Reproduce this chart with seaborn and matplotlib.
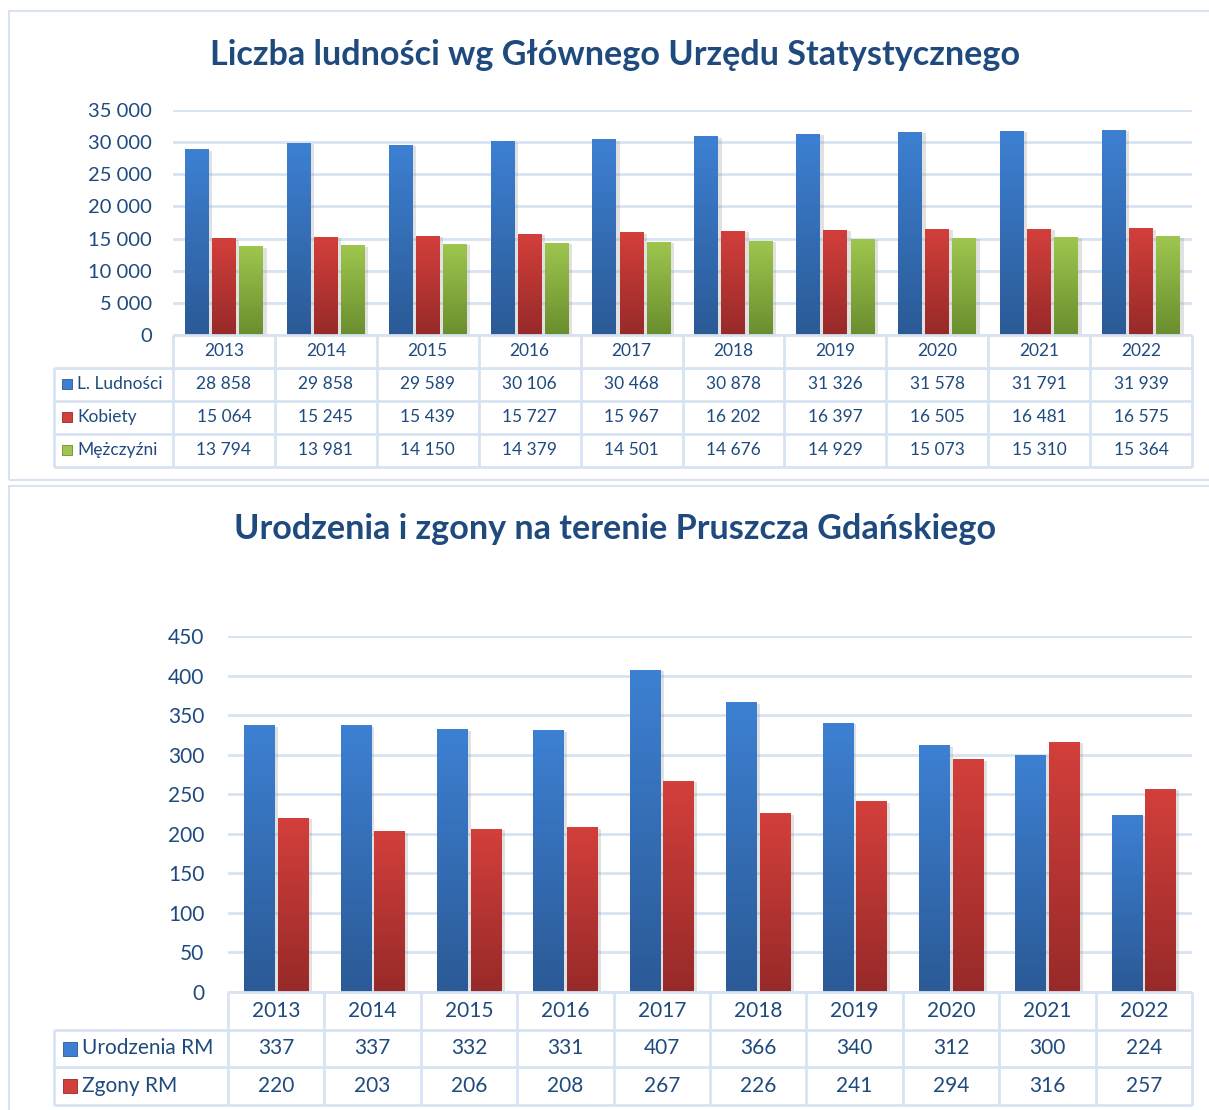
import matplotlib
matplotlib.use("Agg")
import matplotlib.pyplot as plt
import matplotlib.patheffects as pe
from matplotlib.patches import Rectangle
from matplotlib.colors import to_rgb
from matplotlib.ticker import FuncFormatter, MultipleLocator
import seaborn as sns
import pandas as pd
import numpy as np

# --- data ---
years = ["2013", "2014", "2015", "2016", "2017", "2018", "2019", "2020", "2021", "2022"]
ludnosc = [28858, 29858, 29589, 30106, 30468, 30878, 31326, 31578, 31791, 31939]
kobiety = [15064, 15245, 15439, 15727, 15967, 16202, 16397, 16505, 16481, 16575]
mezczyzni = [13794, 13981, 14150, 14379, 14501, 14676, 14929, 15073, 15310, 15364]
urodzenia = [337, 337, 332, 331, 407, 366, 340, 312, 300, 224]
zgony = [220, 203, 206, 208, 267, 226, 241, 294, 316, 257]

series_top = ["L. Ludności", "Kobiety", "Mężczyźni"]
series_bot = ["Urodzenia RM", "Zgony RM"]
title_top = "Liczba ludności wg Głównego Urzędu Statystycznego"
title_bot = "Urodzenia i zgony na terenie Pruszcza Gdańskiego"

# gradient colours (top, bottom)
BLUE = ("#3D80D2", "#2B5A96")
RED = ("#D33F3B", "#972A29")
GREEN = ("#9EC64E", "#6A8E2E")
NAVY = "#1F4A7E"
GRID = "#D7E3F2"

sns.set_style("white")
plt.rcParams["font.family"] = ["Lato", "DejaVu Sans"]

W, H = 1209, 1110
fig = plt.figure(figsize=(W / 100, H / 100), dpi=100)


def px_axes(l, t, r, b):
    return fig.add_axes([l / W, 1 - b / H, (r - l) / W, (b - t) / H])


def thousands(v, pos=None):
    return f"{int(v):,}".replace(",", " ")


def draw_bars(ax, values, names, grads, width, gap, ymax, step, fs, fmt, pad):
    df = pd.DataFrame({
        "rok": years * len(names),
        "wartosc": [v for vals in values for v in vals],
        "seria": [n for n, vals in zip(names, values) for _ in vals],
    })
    sns.barplot(data=df, x="rok", y="wartosc", hue="seria", hue_order=names,
                palette=[g[1] for g in grads], width=width, gap=gap,
                saturation=1, legend=False, ax=ax, errorbar=None)
    t = np.linspace(0, 1, 80)[:, None]
    for cont, grad in zip(ax.containers, grads):
        top, bot = np.array(to_rgb(grad[0])), np.array(to_rgb(grad[1]))
        img = (top * (1 - t) + bot * t)[:, None, :]
        for bar in cont:
            bar.set_linewidth(0)
            bar.set_path_effects([pe.SimplePatchShadow(offset=(2.5, -1), shadow_rgbFace="#888888", alpha=0.25),
                                  pe.Normal()])
            x0, w, h = bar.get_x(), bar.get_width(), bar.get_height()
            im = ax.imshow(img, extent=[x0, x0 + w, 0, h], origin="upper",
                           aspect="auto", interpolation="bilinear", zorder=bar.get_zorder() + 0.1)
            im.set_clip_path(bar)
    ax.set_xlim(-0.5, len(years) - 0.5)
    ax.set_ylim(0, ymax)
    ax.yaxis.set_major_locator(MultipleLocator(step))
    ax.yaxis.set_major_formatter(FuncFormatter(fmt))
    ax.yaxis.grid(True, color=GRID, lw=2)
    ax.set_axisbelow(True)
    for s in ax.spines.values():
        s.set_visible(False)
    ax.tick_params(axis="y", length=0, pad=pad, labelsize=fs, labelcolor=NAVY)
    ax.tick_params(axis="x", length=0, labelbottom=False)
    ax.set_xlabel("")
    ax.set_ylabel("")


def draw_table(tax, names, values, colors, label_w, sq_x, txt_x, fs, sq, fmt):
    n = len(years)
    nr = len(names)
    tax.set_xlim(-0.5, n - 0.5)
    tax.set_ylim(nr + 1, 0)
    tax.axis("off")
    left = -0.5 - label_w
    kw = dict(color=GRID, lw=2, clip_on=False, solid_capstyle="butt")
    tax.plot([-0.5, n - 0.5], [0, 0], **kw)
    for k in range(n + 1):
        tax.plot([k - 0.5, k - 0.5], [0, nr + 1], **kw)
    tax.plot([left, left], [1, nr + 1], **kw)
    for r in range(1, nr + 2):
        tax.plot([left, n - 0.5], [r, r], **kw)
    for i, y in enumerate(years):
        tax.text(i, 0.5, y, ha="center", va="center", fontsize=fs, color=NAVY)
    for r, (name, vals, col) in enumerate(zip(names, values, colors), start=1):
        tax.scatter([left + sq_x], [r + 0.5], marker="s", s=sq, color=col[0], clip_on=False,
                    edgecolors=col[1], linewidths=0.6)
        tax.text(left + txt_x, r + 0.5, name, ha="left", va="center", fontsize=fs, color=NAVY)
        for i, v in enumerate(vals):
            tax.text(i, r + 0.5, fmt(v), ha="center", va="center", fontsize=fs, color=NAVY)


# --- top panel ---
ax1 = px_axes(173, 110, 1192, 335)
draw_bars(ax1, [ludnosc, kobiety, mezczyzni], series_top, [BLUE, RED, GREEN],
          width=0.8, gap=0.12, ymax=35000, step=5000, fs=14.5, fmt=thousands, pad=15)
tab1 = px_axes(173, 335, 1192, 467)
cw1 = (1192 - 173) / 10
draw_table(tab1, series_top, [ludnosc, kobiety, mezczyzni], [BLUE, RED, GREEN],
           label_w=(173 - 54) / cw1, sq_x=13 / cw1, txt_x=23 / cw1, fs=12.5, sq=60, fmt=thousands)

# --- bottom panel ---
ax2 = px_axes(228, 636, 1192, 992)
draw_bars(ax2, [urodzenia, zgony], series_bot, [BLUE, RED],
          width=0.7, gap=0.1, ymax=450, step=50, fs=15, fmt=lambda v, p=None: f"{int(v)}", pad=17)
tab2 = px_axes(228, 992, 1192, 1105)
cw2 = (1192 - 228) / 10
draw_table(tab2, series_bot, [urodzenia, zgony], [BLUE, RED],
           label_w=(228 - 54) / cw2, sq_x=16 / cw2, txt_x=28 / cw2, fs=15, sq=100, fmt=lambda v: str(v))

# panel frames and titles
fig.add_artist(Rectangle((9 / W, 1 - 480 / H), (1230 - 9) / W, (480 - 11) / H,
                         transform=fig.transFigure, fill=False, ec=GRID, lw=1.5))
fig.add_artist(Rectangle((9 / W, 1 - 1130 / H), (1230 - 9) / W, (1130 - 486) / H,
                         transform=fig.transFigure, fill=False, ec=GRID, lw=1.5))
fig.text(615 / W, 1 - 55 / H, title_top, ha="center", va="center", fontsize=24.6,
         fontweight="bold", color=NAVY)
fig.text(615 / W, 1 - 529 / H, title_bot, ha="center", va="center", fontsize=24.6,
         fontweight="bold", color=NAVY)

fig.savefig("out.png", dpi=100)
